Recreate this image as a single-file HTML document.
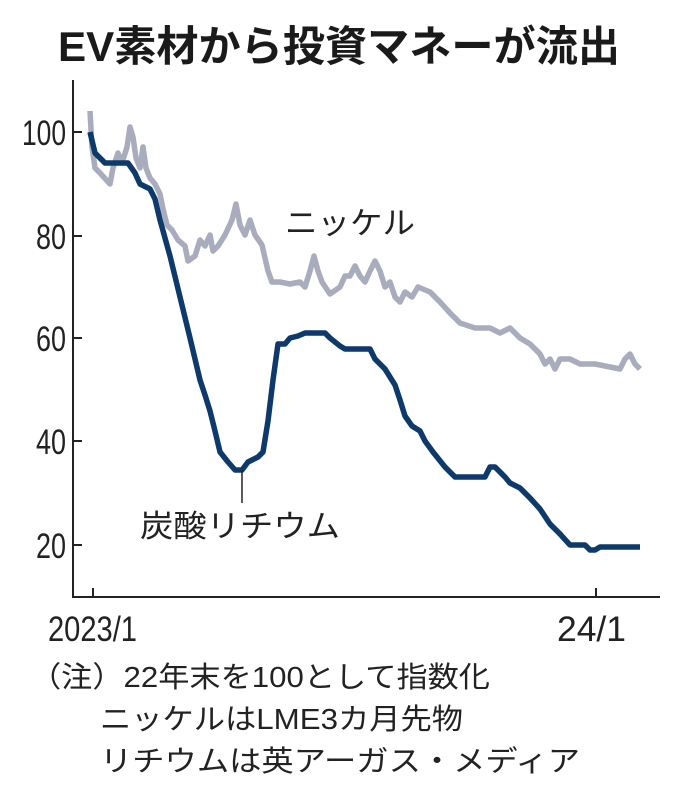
<!DOCTYPE html>
<html><head><meta charset="utf-8"><style>
body{margin:0;background:#fff;width:680px;height:788px;overflow:hidden}
svg{display:block}
</style></head><body>
<svg width="680" height="788" xmlns="http://www.w3.org/2000/svg">
<text x="58" y="61" textLength="562" lengthAdjust="spacingAndGlyphs" font-family="Liberation Sans, Noto Sans CJK JP, sans-serif" font-weight="bold" font-size="42" fill="#1a1a1a">EV素材から投資マネーが流出</text>
<g stroke="#222" stroke-width="2" fill="none">
<line x1="73" y1="80" x2="73" y2="597"/>
<line x1="72" y1="597" x2="660" y2="597"/>
<line x1="73" y1="132" x2="82" y2="132"/>
<line x1="73" y1="236" x2="82" y2="236"/>
<line x1="73" y1="338" x2="82" y2="338"/>
<line x1="73" y1="441" x2="82" y2="441"/>
<line x1="73" y1="545" x2="82" y2="545"/>
<line x1="93" y1="597" x2="93" y2="588"/>
<line x1="596" y1="597" x2="596" y2="588"/>
</g>
<g font-family="Liberation Sans, sans-serif" font-size="35" fill="#222">
<text x="22" y="145" textLength="44" lengthAdjust="spacingAndGlyphs">100</text>
<text x="36" y="249" textLength="30" lengthAdjust="spacingAndGlyphs">80</text>
<text x="36" y="351" textLength="30" lengthAdjust="spacingAndGlyphs">60</text>
<text x="36" y="454" textLength="30" lengthAdjust="spacingAndGlyphs">40</text>
<text x="36" y="558" textLength="30" lengthAdjust="spacingAndGlyphs">20</text>
<text x="48" y="641" textLength="89" lengthAdjust="spacingAndGlyphs">2023/1</text>
<text x="557" y="641" textLength="69" lengthAdjust="spacingAndGlyphs">24/1</text>
</g>
<polyline fill="none" stroke="#a8acbd" stroke-width="5.5" stroke-linejoin="round" points="90,111 92,147 95,168 100,173 110,184 113,168 118,153 122,163 127,147 130,127 133,137 136,158 140,168 143,147 146,168 150,178 155,184 160,194 163,209 167,225 172,230 178,240 185,246 188,261 195,256 200,240 205,246 210,235 213,251 218,246 225,235 232,220 236,204 240,225 245,235 250,220 255,235 262,245 268,271 272,282 280,282 290,284 300,282 305,287 310,271 314,256 318,271 322,282 330,294 340,287 345,276 350,276 355,266 360,276 365,282 370,271 375,261 380,271 385,287 390,282 395,297 400,302 405,292 412,297 418,287 430,292 440,302 450,313 460,323 475,328 490,328 500,333 510,328 520,338 530,344 540,354 545,364 550,359 555,369 560,359 570,359 580,364 595,364 610,367 620,369 625,359 630,354 635,364 640,369"/>
<polyline fill="none" stroke="#0d3a6b" stroke-width="5.5" stroke-linejoin="round" points="90,132 95,153 100,158 105,163 128,163 135,173 140,184 150,189 155,199 160,220 170,256 180,297 190,338 200,380 205,395 210,411 215,431 220,452 228,462 235,470 242,470 248,462 258,457 263,452 268,421 273,380 278,344 285,344 290,338 298,336 305,333 325,333 330,338 340,346 345,349 370,349 375,359 385,369 395,385 400,400 405,416 412,426 420,431 425,441 433,452 445,467 455,477 485,477 490,467 495,467 505,477 510,483 520,488 530,498 540,509 550,524 560,534 570,545 585,545 590,550 595,550 600,547 640,547"/>
<line x1="242" y1="470" x2="242" y2="503" stroke="#222" stroke-width="1.5"/>
<g font-family="Liberation Sans, Noto Sans CJK JP, sans-serif" font-size="31" fill="#222">
<text x="285" y="234" textLength="130" lengthAdjust="spacingAndGlyphs">ニッケル</text>
<text x="140" y="537" textLength="200" lengthAdjust="spacingAndGlyphs">炭酸リチウム</text>
</g>
<g font-family="Liberation Sans, Noto Sans CJK JP, sans-serif" font-size="29" fill="#222">
<text x="30" y="687" textLength="460" lengthAdjust="spacingAndGlyphs">（注）22年末を100として指数化</text>
<text x="100" y="729" textLength="363" lengthAdjust="spacingAndGlyphs">ニッケルはLME3カ月先物</text>
<text x="100" y="771" textLength="480" lengthAdjust="spacingAndGlyphs">リチウムは英アーガス・メディア</text>
</g>
</svg>
</body></html>
